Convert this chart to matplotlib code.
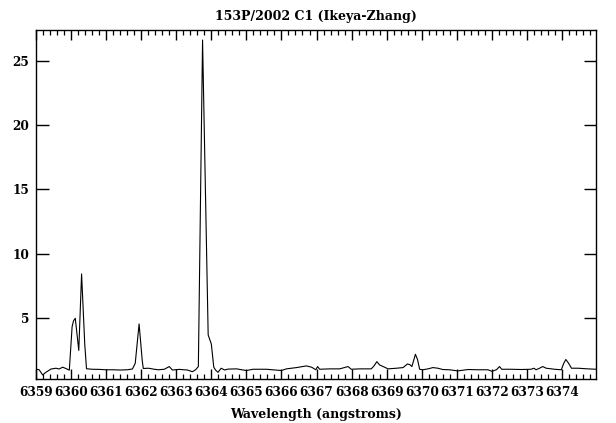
import matplotlib
matplotlib.use("Agg")
import matplotlib.pyplot as plt
from matplotlib.ticker import MultipleLocator

# spectrum
wave = [
    6359.00, 6359.09, 6359.19, 6359.28, 6359.43, 6359.57, 6359.66, 6359.76, 6359.85, 6359.95,
    6360.03, 6360.07, 6360.12, 6360.22, 6360.30, 6360.39, 6360.44,
    6360.60, 6360.80, 6361.00, 6361.20, 6361.40, 6361.60, 6361.75, 6361.83, 6361.94, 6362.03,
    6362.06, 6362.21, 6362.35, 6362.49, 6362.66, 6362.80, 6362.89, 6363.08, 6363.32, 6363.46,
    6363.55, 6363.63, 6363.75, 6363.91, 6364.00, 6364.07, 6364.12, 6364.19, 6364.28, 6364.38,
    6364.47, 6364.72, 6365.00, 6365.19, 6365.57, 6366.00, 6366.14, 6366.43, 6366.71, 6366.86,
    6366.98, 6367.03, 6367.09, 6367.38, 6367.66, 6367.90, 6367.99, 6368.23, 6368.56, 6368.64,
    6368.72, 6368.80, 6368.90, 6369.04, 6369.28, 6369.47, 6369.59, 6369.66, 6369.72, 6369.82,
    6369.88, 6369.94, 6370.03, 6370.18, 6370.32, 6370.46, 6370.60, 6370.79, 6371.03, 6371.32,
    6371.60, 6371.89, 6372.00, 6372.13, 6372.22, 6372.28, 6372.55, 6372.84, 6373.12, 6373.20,
    6373.26, 6373.36, 6373.45, 6373.55, 6373.79, 6373.98, 6374.05, 6374.11, 6374.19, 6374.27,
    6374.46, 6374.74, 6374.97,
]
flux = [
    1.05, 1.00, 0.60, 0.80, 1.06, 1.12, 1.06, 1.20, 1.10, 0.97,
    4.35, 4.80, 5.00, 2.50, 8.44, 3.00, 1.08,
    1.04, 1.03, 1.00, 1.00, 0.98, 1.00, 1.06, 1.50, 4.56, 1.70,
    1.10, 1.12, 1.05, 1.00, 1.04, 1.25, 0.98, 1.03, 0.98, 0.85,
    1.00, 1.25, 26.60, 3.70, 3.00, 1.20, 0.98, 0.80, 1.12, 0.98,
    1.05, 1.07, 0.94, 1.04, 1.04, 0.94, 1.07, 1.17, 1.30, 1.20,
    1.00, 1.25, 1.04, 1.07, 1.07, 1.25, 1.04, 1.07, 1.07, 1.30,
    1.63, 1.37, 1.25, 1.07, 1.12, 1.17, 1.45, 1.40, 1.25, 2.20,
    1.80, 1.04, 1.00, 1.07, 1.17, 1.12, 1.02, 1.00, 0.91, 1.02,
    1.00, 1.00, 0.88, 1.00, 1.25, 1.04, 1.04, 1.02, 1.04, 1.12,
    1.00, 1.12, 1.25, 1.12, 1.04, 1.00, 1.50, 1.80, 1.50, 1.12,
    1.12, 1.07, 1.04,
]
x_ticks = list(range(6359, 6375))
y_ticks = [5, 10, 15, 20, 25]

plt.rcParams['font.family'] = ['DejaVu Serif']
plt.rcParams['font.weight'] = 'bold'

fig = plt.figure(figsize=(6.16, 4.23), dpi=100)
ax = fig.add_axes([36 / 616, 1 - 379.3 / 423, 560 / 616, 349.3 / 423])

ax.plot(wave, flux, color='black', lw=0.8)

ax.set_xlim(6359.0, 6374.97)
ax.set_ylim(0.26, 27.38)
ax.set_xticks(x_ticks)
ax.set_xticklabels([str(t) for t in x_ticks])
ax.xaxis.set_minor_locator(MultipleLocator(0.2))
ax.set_yticks(y_ticks)

ax.tick_params(axis='x', which='major', direction='in', length=7.5, width=1.0,
               top=True, bottom=True, labelsize=8.7, pad=5)
ax.tick_params(axis='x', which='minor', direction='in', length=3.8, width=0.9,
               top=True, bottom=True)
ax.tick_params(axis='y', which='major', direction='in', length=9, width=1.0,
               left=True, right=True, labelsize=8.7, pad=5)
for lab in ax.get_xticklabels() + ax.get_yticklabels():
    lab.set_fontweight('bold')
for sp in ax.spines.values():
    sp.set_linewidth(1.0)

ax.set_title("153P/2002 C1 (Ikeya-Zhang)", fontsize=9, fontweight='bold', pad=7)
ax.set_xlabel("Wavelength (angstroms)", fontsize=9, fontweight='bold', labelpad=6)

fig.savefig("out.png", dpi=100)
